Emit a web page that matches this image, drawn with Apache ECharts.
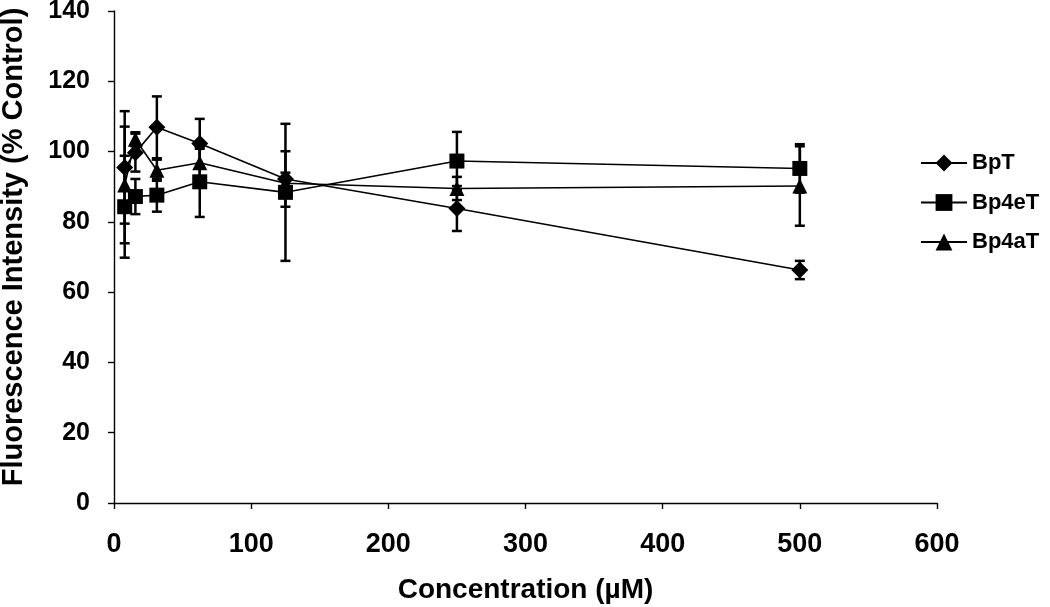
<!DOCTYPE html>
<html>
<head>
<meta charset="utf-8">
<script src="https://cdn.jsdelivr.net/npm/echarts@6/dist/echarts.min.js"></script>
<style>html,body{margin:0;padding:0;background:#fff}#c{width:1050px;height:607px}</style>
</head>
<body>
<div id="c"></div>
<script>
const conc = [7.8, 15.6, 31.25, 62.5, 125, 250, 500];
const BpT = [95.5, 99.7, 106.9, 102.3, 92.2, 83.8, 66.3];
const BpT_err = [16, 5.4, 8.8, 7, 7.9, 6.4, 2.6];
const Bp4eT = [84.3, 87.2, 87.6, 91.4, 88.4, 97.3, 95.2];
const Bp4eT_err = [14.5, 5, 4.7, 10, 19.5, 8.3, 6.9];
const Bp4aT = [90.5, 103.5, 94.7, 96.8, 91.0, 89.5, 90.2];
const Bp4aT_err = [16.6, 2, 3, 4, 3, 3.3, 11.3];
const seriesNames = ['BpT', 'Bp4eT', 'Bp4aT'];
const xTicks = [0, 100, 200, 300, 400, 500, 600];
const yTicks = [0, 20, 40, 60, 80, 100, 120, 140];

const FONT = '"Liberation Sans", Arial, sans-serif';
const chart = echarts.init(document.getElementById('c'));

function errSeries(name, vals, errs) {
  return {
    type: 'custom',
    name: name + ' error',
    z: 1,
    silent: true,
    data: conc.map((x, i) => [x, vals[i] - errs[i], vals[i] + errs[i]]),
    renderItem: function (params, api) {
      const lo = api.coord([api.value(0), api.value(1)]);
      const hi = api.coord([api.value(0), api.value(2)]);
      const w = 5;
      const st = { stroke: '#000', lineWidth: 2.5 };
      return {
        type: 'group',
        children: [
          { type: 'line', shape: { x1: lo[0], y1: lo[1], x2: hi[0], y2: hi[1] }, style: st },
          { type: 'line', shape: { x1: lo[0] - w, y1: lo[1], x2: lo[0] + w, y2: lo[1] }, style: st },
          { type: 'line', shape: { x1: hi[0] - w, y1: hi[1], x2: hi[0] + w, y2: hi[1] }, style: st }
        ]
      };
    }
  };
}

function lineSeries(name, vals, symbol, size) {
  return {
    type: 'line',
    name: name,
    z: 3,
    data: conc.map((x, i) => [x, vals[i]]),
    symbol: symbol,
    symbolSize: size,
    lineStyle: { color: '#000', width: 1.6 },
    itemStyle: { color: '#000' },
    emphasis: { disabled: true }
  };
}

chart.setOption({
  animation: false,
  backgroundColor: '#fff',
  grid: { left: 114, right: 113, top: 11, bottom: 104, containLabel: false, outerBoundsMode: 'none' },
  legend: {
    orient: 'vertical',
    left: 915,
    top: 147,
    padding: 5,
    itemGap: 17.5,
    itemWidth: 46,
    itemHeight: 21,
    data: seriesNames,
    textStyle: { fontFamily: FONT, fontWeight: 'bold', fontSize: 22, color: '#000' }
  },
  xAxis: {
    type: 'value',
    min: 0, max: 600, interval: 100,
    name: 'Concentration (µM)',
    nameLocation: 'middle',
    nameGap: 73,
    nameTextStyle: { fontFamily: FONT, fontWeight: 'bold', fontSize: 28, color: '#000' },
    axisLine: { lineStyle: { color: '#000', width: 1.4 } },
    axisTick: { inside: false, length: 6, lineStyle: { color: '#000', width: 1.4 } },
    axisLabel: { margin: 28, fontFamily: FONT, fontWeight: 'bold', fontSize: 27, color: '#000',
      formatter: v => xTicks.includes(v) ? String(v) : '' },
    splitLine: { show: false }
  },
  yAxis: {
    type: 'value',
    min: 0, max: 140, interval: 20,
    name: 'Fluorescence Intensity (% Control)',
    nameLocation: 'middle',
    nameGap: 86,
    nameTextStyle: { fontFamily: FONT, fontWeight: 'bold', fontSize: 29, color: '#000', padding: [0, 0, 0, 20] },
    axisLine: { show: true, lineStyle: { color: '#000', width: 1.4 } },
    axisTick: { show: true, length: 6, lineStyle: { color: '#000', width: 1.4 } },
    axisLabel: { margin: 24, fontFamily: FONT, fontWeight: 'bold', fontSize: 25, color: '#000',
      formatter: v => yTicks.includes(v) ? String(v) : '' },
    splitLine: { show: false }
  },
  series: [
    errSeries('BpT', BpT, BpT_err),
    errSeries('Bp4eT', Bp4eT, Bp4eT_err),
    errSeries('Bp4aT', Bp4aT, Bp4aT_err),
    lineSeries('BpT', BpT, 'diamond', 17),
    lineSeries('Bp4eT', Bp4eT, 'rect', 15),
    lineSeries('Bp4aT', Bp4aT, 'triangle', 15)
  ]
});
</script>
</body>
</html>
